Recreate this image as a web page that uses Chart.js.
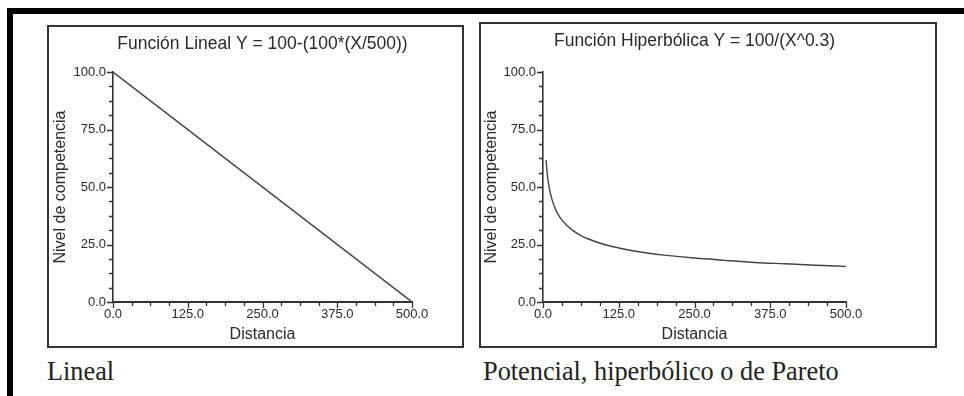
<!DOCTYPE html>
<html><head><meta charset="utf-8">
<script src="https://cdn.jsdelivr.net/npm/chart.js@4/dist/chart.umd.min.js"></script>
<style>
html,body{margin:0;padding:0;background:#fff;width:964px;height:396px;overflow:hidden;}
body{position:relative;}
.frame{position:absolute;left:7px;top:8px;width:990px;height:420px;border-top:6px solid #000;border-left:6px solid #000;box-sizing:border-box;}
.box{position:absolute;border:2px solid #333;box-sizing:border-box;}
#box1{left:47px;top:25px;width:417px;height:323px;}
#box2{left:479px;top:22px;width:458px;height:326px;}
canvas{position:absolute;}
#c1{left:49px;top:27px;}
#c2{left:481px;top:24px;}
.cap{position:absolute;font-family:"Liberation Serif","Times New Roman",serif;font-size:26.3px;color:#222;line-height:1;white-space:nowrap;}
#cap1{left:47px;top:359px;}
#cap2{left:483px;top:359px;}
</style></head>
<body>
<div class="frame"></div>
<div class="box" id="box1"></div>
<div class="box" id="box2"></div>
<canvas id="c1" width="413" height="319"></canvas>
<canvas id="c2" width="454" height="322"></canvas>
<div class="cap" id="cap1">Lineal</div>
<div class="cap" id="cap2">Potencial, hiperbólico o de Pareto</div>
<script>
// ---- data ----
const titleLinear = 'Función Lineal Y = 100-(100*(X/500))';
const titleHyper = 'Función Hiperbólica Y = 100/(X^0.3)';
const xAxisTitle = 'Distancia';
const yAxisTitle = 'Nivel de competencia';
const xTicks = [0, 125, 250, 375, 500];
const yTicks = [0, 25, 50, 75, 100];

const linearX = [0, 500];
const linearY = [100, 0];

const hyperX = [5, 7.5, 10, 15, 20, 25, 30, 40, 50, 62.5, 75, 100, 125, 150, 175, 200, 250, 300, 350, 400, 450, 500];
const hyperY = [61.7, 54.6, 50.1, 44.4, 40.7, 38.1, 36.0, 33.1, 30.9, 28.9, 27.4, 25.1, 23.5, 22.2, 21.2, 20.4, 19.1, 18.1, 17.2, 16.6, 16.0, 15.5];

// ---- styling ----
const SANS = '"Liberation Sans", Arial, Helvetica, sans-serif';
const AXIS = '#333';
const TXT = '#2a2a2a';

const minorTicks = {
  id: 'minorTicks',
  afterDraw(chart) {
    const ctx = chart.ctx, xs = chart.scales.x, ys = chart.scales.y;
    const a = chart.chartArea;
    ctx.save();
    ctx.strokeStyle = AXIS;
    ctx.lineWidth = 1.3;
    ctx.beginPath();
    for (let v = xs.min; v <= xs.max + 1e-6; v += 31.25) {
      const px = Math.round(xs.getPixelForValue(v)) + 0.5;
      const len = (Math.abs(v % 125) < 1e-6) ? 6 : 4;
      ctx.moveTo(px, a.bottom);
      ctx.lineTo(px, a.bottom + len);
    }
    for (let v = ys.min; v <= ys.max + 1e-6; v += 6.25) {
      const py = Math.round(ys.getPixelForValue(v)) + 0.5;
      const len = (Math.abs(v % 25) < 1e-6) ? 6 : 4;
      ctx.moveTo(a.left, py);
      ctx.lineTo(a.left - len, py);
    }
    ctx.stroke();
    ctx.restore();
  }
};

function makeChart(id, xs, ys, title, o) {
  const pts = xs.map((x, i) => ({x: x, y: ys[i]}));
  return new Chart(document.getElementById(id), {
    type: 'line',
    data: {datasets: [{data: pts, borderColor: '#444', borderWidth: 1.4, pointRadius: 0, fill: false, cubicInterpolationMode: 'monotone'}]},
    options: {
      responsive: false, animation: false, events: [],
      layout: {padding: {left: 0, right: o.padRight, top: 0, bottom: 0}},
      plugins: {
        legend: {display: false}, tooltip: {enabled: false},
        title: {display: true, text: title, fullSize: false, color: TXT,
          font: {family: SANS, size: 17.5, weight: 'normal'},
          padding: {top: o.tTop, bottom: o.tBottom}}
      },
      scales: {
        x: {
          type: 'linear', min: 0, max: 500,
          afterBuildTicks: s => { s.ticks = xTicks.map(v => ({value: v})); },
          afterFit: s => { s.height = 44; },
          grid: {display: true, drawOnChartArea: false, drawTicks: false},
          border: {display: true, color: AXIS, width: 2},
          ticks: {padding: 5, color: TXT, font: {family: SANS, size: 13}, maxRotation: 0, autoSkip: false,
            callback: v => Number(v).toFixed(1)},
          title: {display: true, text: xAxisTitle, color: TXT, font: {family: SANS, size: 16}, padding: {top: 0, bottom: 1.4}}
        },
        y: {
          type: 'linear', min: 0, max: 100,
          afterBuildTicks: s => { s.ticks = yTicks.map(v => ({value: v})); },
          afterFit: s => { s.width = o.yWidth; },
          grid: {display: true, drawOnChartArea: false, drawTicks: false},
          border: {display: true, color: AXIS, width: 1.6},
          ticks: {padding: 7, color: TXT, font: {family: SANS, size: 13}, autoSkip: false,
            callback: v => Number(v).toFixed(1)},
          title: {display: true, text: yAxisTitle, color: TXT, font: {family: SANS, size: 16}, padding: {top: o.yTitlePad, bottom: 0}}
        }
      }
    },
    plugins: [minorTicks]
  });
}

makeChart('c1', linearX, linearY, titleLinear, {padRight: 50, tTop: 6.5, tBottom: 17.5, yWidth: 64, yTitlePad: 2});
makeChart('c2', hyperX, hyperY, titleHyper, {padRight: 89, tTop: 6.5, tBottom: 20.5, yWidth: 62, yTitlePad: 0.5});
</script>
</body></html>
